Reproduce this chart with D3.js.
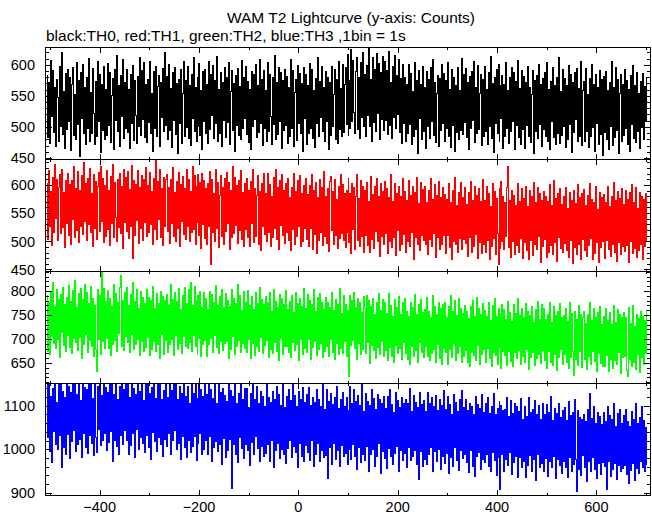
<!DOCTYPE html>
<html><head><meta charset="utf-8">
<script src="https://cdn.jsdelivr.net/npm/d3@7"></script>
<style>html,body{margin:0;padding:0;background:#fff;} svg{display:block;}</style>
</head><body><svg id="c" width="652" height="515"></svg>
<script>
const title = "WAM T2 Lightcurve (y-axis: Counts)";
const subtitle = "black:TH0, red:TH1, green:TH2, blue:TH3 ,1bin = 1s";
const binStart = -506, binWidth = 2;
const xTicks = [-400, -200, 0, 200, 400, 600];
const seriesNames = ["TH0", "TH1", "TH2", "TH3"];
const yTicksTH0 = [450, 500, 550, 600];
const yTicksTH1 = [450, 500, 550, 600];
const yTicksTH2 = [650, 700, 750, 800];
const yTicksTH3 = [900, 1000, 1100];

const th0 = [
583,483,571,474,607,517,590,491,564,468,576,547,477,598,500,619,488,557,465,586,
496,592,509,580,462,568,596,486,552,479,604,504,575,453,588,513,601,490,563,472,
579,498,610,477,556,489,594,522,471,573,485,606,508,584,459,569,494,597,480,561,
487,602,502,587,475,550,578,464,592,511,615,493,566,469,582,516,608,482,571,497,
593,491,560,466,585,505,599,478,574,519,473,581,500,612,486,590,512,603,483,568,
475,576,507,605,490,554,461,589,498,598,484,565,583,469,572,515,594,492,620,503,
581,480,600,495,562,467,587,511,595,488,570,457,577,506,592,474,553,605,485,574,
499,597,482,566,470,584,514,611,492,563,476,580,501,602,487,558,463,589,508,593,
489,568,473,606,496,585,518,599,481,575,505,614,477,561,490,588,468,571,511,596,
483,579,507,603,472,557,590,494,570,460,582,502,594,486,565,479,607,497,580,514,
598,488,573,475,561,464,589,500,584,512,601,483,566,491,609,506,576,470,591,498,
559,477,604,493,585,516,472,580,504,615,480,571,488,596,509,588,465,574,495,593,
502,581,474,563,485,608,497,590,469,555,577,478,599,506,586,490,570,461,595,513,
584,471,567,489,602,498,592,482,559,467,578,505,611,484,573,515,597,492,564,476,
589,508,580,463,571,487,598,501,552,593,480,576,473,605,496,562,485,601,491,568,
595,504,616,487,574,498,625,509,607,523,490,589,612,496,580,482,603,515,620,501,
584,485,599,518,629,500,576,477,611,507,593,493,618,521,602,480,587,512,614,495,
605,510,590,488,622,503,571,482,597,515,615,497,583,520,609,491,578,474,601,506,
580,477,568,489,601,504,586,471,557,484,604,496,575,458,591,513,569,480,598,492,
563,466,589,500,577,482,595,508,608,487,572,475,554,583,469,578,495,600,505,586,
476,574,497,603,485,560,467,592,502,579,460,567,491,596,479,558,494,610,488,585,
507,594,483,571,464,581,498,589,511,606,475,564,489,599,496,553,585,470,576,485,
598,493,561,472,587,501,613,482,570,459,579,506,592,490,601,477,566,513,582,466,
569,485,604,498,558,474,580,492,596,509,588,463,573,502,607,483,562,471,591,496,
581,466,572,502,597,484,563,475,552,590,458,575,492,583,481,600,504,569,469,578,
496,587,485,604,477,560,464,573,509,595,483,566,471,580,490,611,473,557,486,592,
500,578,467,567,480,599,504,585,459,571,491,588,512,594,476,562,484,605,470,558,
573,476,594,493,552,467,578,485,600,499,568,460,585,505,563,472,591,488,576,454,
581,491,589,479,558,463,572,501,606,470,564,483,595,495,577,458,553,584,477,568,
486,592,497,575,471,561,460,582,504,599,482,566,475,588,493,554,465,573,499,586,
480,565,508,579
];

const th1 = [
603,504,625,527,589,492,614,516,636,540,610,501,595,619,513,628,524,587,489,607,
532,621,510,600,495,608,538,633,507,594,519,624,498,590,526,617,512,639,535,602,
501,612,529,630,515,585,490,618,523,606,504,597,622,517,632,536,611,497,599,509,
626,521,591,493,615,531,637,506,604,542,500,609,525,620,514,598,488,628,534,613,
518,623,505,592,527,634,470,607,511,601,537,625,496,596,522,617,502,610,533,631,
509,599,516,622,530,589,494,612,521,645,503,606,539,627,507,593,492,614,526,609,
618,517,595,496,609,532,631,508,586,500,606,523,622,490,600,536,615,512,593,503,
627,526,610,499,589,515,632,521,616,494,598,533,619,510,604,487,621,529,608,505,
593,495,602,527,623,458,609,516,585,500,628,522,604,489,582,617,508,596,494,611,
517,622,532,605,485,590,506,633,513,614,528,599,496,607,520,626,503,587,491,603,
521,612,506,591,490,606,532,627,498,594,509,582,616,495,589,484,603,527,620,512,
584,499,621,516,600,491,579,507,613,522,628,504,595,486,607,528,618,510,590,496,
603,515,612,502,578,484,595,521,621,495,589,509,608,527,616,491,584,500,599,523,
612,504,583,490,599,523,618,485,591,512,604,478,577,501,609,516,595,492,623,509,
579,496,593,482,606,615,519,588,494,610,510,574,487,597,505,619,513,601,501,584,
489,591,516,611,497,584,478,602,521,595,485,580,619,502,576,491,608,508,598,480,
591,511,604,492,570,481,615,504,583,488,597,517,611,499,580,473,602,508,588,495,
606,514,593,478,577,499,618,489,571,506,602,474,585,520,597,484,580,495,612,512,
589,481,572,499,607,490,581,515,598,468,586,506,613,494,567,484,605,511,592,502,
597,495,568,477,591,503,612,490,574,514,600,472,582,507,606,486,578,494,595,511,
583,478,574,511,602,489,569,468,591,500,613,494,564,481,586,505,605,486,578,503,
595,496,566,473,587,507,606,481,572,490,598,512,581,470,593,498,570,478,609,494,
573,481,598,502,584,467,562,491,602,505,589,476,576,514,458,593,488,606,500,580,
485,568,508,596,632,489,573,472,590,500,582,477,564,493,603,481,571,505,594,470,
576,497,598,483,562,468,591,502,579,475,604,494,568,486,596,509,584,463,573,490,
588,504,579,471,570,481,600,492,564,476,607,498,576,465,585,506,593,488,566,480,
580,496,595,483,558,472,586,502,572,461,591,489,567,476,601,494,577,468,584,504,
592,484,564,473,581,492,603,505,575,468,568,479,597,497,556,462,587,489,578,500,
583,469,569,502,597,485,561,473,579,494,604,480,572,465,588,497,576,476,593,490,
565,482,590,493,574,463,586,499,600,478,568,487,595,471,559,484,587,495,580,468,
574,491,585,500
];

const th2 = [
790,674,776,667,798,705,817,691,767,680,804,698,783,662,793,713,808,686,772,675,
786,708,811,682,779,669,800,701,822,693,765,677,795,704,806,660,782,688,814,710,
797,672,773,696,809,685,784,664,769,678,632,802,700,790,668,838,694,805,681,778,
702,801,680,785,666,768,689,813,697,794,673,776,711,807,832,684,781,676,796,705,
808,692,770,671,793,709,818,679,779,688,802,700,764,665,799,694,787,675,774,683,
802,704,787,666,780,679,810,695,764,674,794,689,773,660,799,710,789,668,781,697,
793,672,769,688,814,700,783,665,796,707,778,678,805,691,761,670,790,705,808,684,
774,680,802,692,817,674,770,707,809,685,781,667,791,701,798,663,765,688,796,696,
784,664,762,688,799,701,792,672,777,708,811,683,770,669,788,694,803,677,765,690,
795,695,780,659,768,678,804,706,785,667,773,684,813,697,791,672,760,690,799,680,
777,672,801,700,769,659,788,691,762,665,796,684,774,675,807,703,783,669,771,686,
789,696,775,662,797,679,758,670,804,692,779,675,766,656,793,701,784,667,771,684,
800,685,762,671,779,661,790,692,755,677,796,689,774,656,785,700,767,667,806,681,
764,671,792,698,780,657,771,683,803,694,757,665,786,679,795,690,775,662,761,674,
787,685,776,663,765,700,797,672,759,658,783,691,772,667,805,680,754,669,790,694,
772,664,759,675,623,791,686,780,697,797,681,766,658,784,690,775,667,755,679,788,
763,670,791,692,780,649,768,686,785,676,752,659,776,683,794,667,759,695,782,663,
775,676,754,655,794,683,769,664,747,651,782,687,765,669,788,680,751,658,777,692,
784,669,757,658,746,647,776,684,765,663,793,676,750,652,771,693,782,671,755,661,
761,684,786,663,757,655,745,670,790,678,767,651,752,688,777,660,763,646,772,681,
776,671,745,647,767,678,791,662,757,690,780,656,749,669,785,684,763,651,754,664,
770,677,758,651,742,643,767,672,780,665,746,656,786,686,763,648,751,668,774,679,
759,652,747,681,777,660,738,642,769,671,785,665,746,648,763,683,754,639,771,674,
762,666,740,645,779,674,756,653,737,642,771,671,754,659,784,677,749,648,764,663,
744,652,773,678,757,636,749,662,767,671,734,644,761,659,779,667,740,649,771,676,
763,656,740,639,751,673,776,651,734,644,768,668,749,635,757,662,773,678,744,648,
748,667,763,651,736,639,775,662,753,673,625,758,657,741,644,770,675,751,641,744,
758,658,732,637,751,664,775,647,738,675,764,654,745,633,755,669,768,650,730,642,
747,642,764,665,739,633,755,658,730,639,770,655,734,647,761,671,750,628,744,662,
755,664,744,635,622,766,657,733,642,770,651,727,636,751,667,743,630,758,661,747,
646,738,669,761
];

const th3 = [
1148,1026,1173,994,1121,970,1139,1040,1166,1012,1108,999,1180,1031,1154,958,1133,1005,1118,988,
1163,1034,1145,979,1130,1017,1188,1042,1156,995,1125,1010,1170,1023,1112,982,1152,1037,1141,1003,
1136,991,1178,1032,1150,1014,1117,985,1159,1028,993,1144,1045,1175,1008,1123,1020,1167,1036,1142,
997,1130,1015,1168,1040,1152,973,1125,1020,1183,1006,1113,987,1145,1032,1161,1011,1136,1042,1173,
1021,1153,988,1118,1008,1177,1036,1139,981,1126,1046,1162,1000,1133,1027,1170,1014,1111,993,1148,
1031,1164,1005,1129,977,1141,1039,1178,1017,1116,994,1149,1028,1168,1010,1113,984,1135,1023,1155,
1006,1118,1035,1170,988,1135,1020,1153,1044,1182,999,1113,1013,1144,977,1129,1030,1161,1004,1122,
982,1143,1019,1106,993,1169,1006,1128,1030,1154,975,1117,1013,1160,1036,1136,988,1122,1000,1175,
1021,1126,987,1153,1030,1136,972,1117,1003,1162,1018,1105,994,1148,1012,1130,966,1140,1025,1123,
981,1110,996,1155,1023,1134,910,1120,1012,1148,989,1106,970,1129,1027,1163,1002,1115,978,1139,
1011,1139,997,1096,962,1128,1016,1150,988,1114,1029,1143,1001,1105,971,1132,1007,1121,983,1099,
991,1154,1010,1119,972,1107,1019,1132,957,1113,996,1144,1014,1126,978,1101,1000,1151,988,1095,
967,1120,1001,1136,1019,1112,980,1154,1007,1124,993,1097,959,1133,1014,1115,984,1141,972,1108,
1008,1125,993,1142,974,1100,1019,1119,960,1107,989,1136,1014,1114,971,1098,997,1149,982,1092,
986,1136,932,1109,1005,1127,964,1102,1013,1119,976,1145,997,1094,960,1113,1009,1131,984,1098,
990,1118,965,1090,999,1144,977,1104,1012,1136,983,1109,954,1123,1003,1100,970,1148,988,1086,
974,1129,1006,1110,950,1101,988,1136,999,1117,961,1092,984,1126,1013,1113,945,1105,995,1122,
978,1093,956,1121,1002,1137,983,1102,965,1084,990,1130,1007,1112,949,1096,998,1118,974,1105,
991,1114,957,1105,1004,1140,975,1087,983,1123,998,1108,966,1096,931,1131,994,1102,960,1112,
977,1087,966,1130,988,1106,1004,1119,949,1098,995,1124,972,1090,1000,1113,953,1101,984,1135,
968,1092,990,1120,945,1103,981,1079,960,1126,1003,1108,974,1087,952,1115,996,1134,978,1096,
988,1115,969,1088,946,1106,997,1097,960,1079,938,1120,983,1102,992,1093,954,1126,976,1084,
970,1106,987,1118,961,1082,949,1098,993,1127,974,1079,940,1093,982,1110,908,1101,988,1089,
949,1092,976,1119,962,1074,993,1112,941,1081,969,1105,984,1097,935,1086,981,1116,957,1069,
971,1097,936,1074,962,1118,985,1085,949,1092,976,1111,929,1080,988,1100,957,1069,968,1106,
950,1079,979,1102,937,1084,971,1120,958,1065,984,1093,932,1081,976,1106,963,1073,945,1090,
971,1096,958,1065,936,1109,980,1077,948,1084,965,1113,977,903,1090,954,1072,940,1068,985,
1079,959,1063,927,1092,973,1128,948,1070,980,1097,954,1058,932,1084,967,1075,941,1056,969,
1085,960,1063,907,1098,972,1077,937,1069,953,1104,968,1052,931,1082,962,1091,948,1058,956,
1077,963,1092,941,1064,922,1053,952,1086,967,1069,929,1105,956,1060,945,1073,973,1098,959,
1067,950,1051,965
];

// ---- layout / styling ----
const W = 652, H = 515;
const plotLeft = 46, plotRight = 650, plotTop = 47, panelH = 112;
const panels = [
  { data: th0, ticks: yTicksTH0, domain: [448.4, 628.6], minor: 10, color: "#000000" },
  { data: th1, ticks: yTicksTH1, domain: [447.3, 646], minor: 10, color: "#ff0000" },
  { data: th2, ticks: yTicksTH2, domain: [608.5, 841.5], minor: 10, color: "#00ff00" },
  { data: th3, ticks: yTicksTH3, domain: [895, 1152], minor: 20, color: "#0000ff" }
];
const font = "'Liberation Sans', Arial, Helvetica, sans-serif";

const svg = d3.select("#c");
svg.append("rect").attr("width", W).attr("height", H).attr("fill", "#fff");

const x = d3.scaleLinear().domain([-508, 708]).range([plotLeft, plotRight]);
const xMinor = d3.range(-500, 701, 100).filter(v => !xTicks.includes(v));

panels.forEach((p, i) => {
  const y0 = plotTop + i * panelH, y1 = y0 + panelH;
  const y = d3.scaleLinear().domain(p.domain).range([y1, y0]);
  const g = svg.append("g");
  const cid = "clip" + i;
  svg.append("clipPath").attr("id", cid).append("rect")
    .attr("x", plotLeft).attr("y", y0).attr("width", plotRight - plotLeft).attr("height", panelH);

  const pts = p.data.map((v, j) => ({ t: binStart + j * binWidth, v }));
  pts.push({ t: binStart + p.data.length * binWidth, v: p.data[p.data.length - 1] });
  const line = d3.line().x(d => x(d.t)).y(d => y(d.v)).curve(d3.curveStepAfter);
  g.append("path").datum(pts).attr("d", line)
    .attr("fill", "none").attr("stroke", p.color).attr("stroke-width", 1)
    .attr("clip-path", `url(#${cid})`).attr("shape-rendering", "crispEdges");

  g.append("rect").attr("x", plotLeft - 0.5).attr("y", y0 + 0.5)
    .attr("width", plotRight - plotLeft + 1).attr("height", panelH)
    .attr("fill", "none").attr("stroke", "#000").attr("stroke-width", 1)
    .attr("shape-rendering", "crispEdges");

  const tg = g.append("g").attr("stroke", "#000").attr("stroke-width", 1).attr("shape-rendering", "crispEdges");
  const minorY = d3.range(Math.ceil(p.domain[0] / p.minor) * p.minor, p.domain[1], p.minor)
    .filter(v => !p.ticks.includes(v));
  const yTickLine = (v, len) => {
    const yy = Math.round(y(v)) + 0.5;
    tg.append("line").attr("x1", plotLeft - 0.5).attr("x2", plotLeft + len).attr("y1", yy).attr("y2", yy);
    tg.append("line").attr("x1", plotRight + 0.5).attr("x2", plotRight - len).attr("y1", yy).attr("y2", yy);
  };
  p.ticks.forEach(v => yTickLine(v, 6));
  minorY.forEach(v => yTickLine(v, 3));
  const xTickLine = (v, len) => {
    const xx = Math.round(x(v)) + 0.5;
    tg.append("line").attr("x1", xx).attr("x2", xx).attr("y1", y0).attr("y2", y0 + len);
    tg.append("line").attr("x1", xx).attr("x2", xx).attr("y1", y1 + 1).attr("y2", y1 + 1 - len);
  };
  xTicks.forEach(v => xTickLine(v, 6));
  xMinor.forEach(v => xTickLine(v, 3));

  g.selectAll("text.yl").data(p.ticks).enter().append("text")
    .attr("x", 35).attr("y", v => y(v)).attr("dy", "0.36em")
    .attr("text-anchor", "end").attr("font-family", font).attr("font-size", 14.5)
    .attr("fill", "#000").text(v => v);
});

svg.selectAll("text.xl").data(xTicks).enter().append("text")
  .attr("x", v => x(v)).attr("y", 512).attr("text-anchor", "middle")
  .attr("font-family", font).attr("font-size", 14.5).attr("fill", "#000")
  .text(v => (v < 0 ? "\u2212" + Math.abs(v) : String(v)));

svg.append("text").attr("x", 351).attr("y", 23).attr("text-anchor", "middle")
  .attr("font-family", font).attr("font-size", 15.5).attr("fill", "#000").text(title);
svg.append("text").attr("x", 46).attr("y", 41).attr("text-anchor", "start")
  .attr("font-family", font).attr("font-size", 15.5).attr("fill", "#000").text(subtitle);
</script>
</body></html>
